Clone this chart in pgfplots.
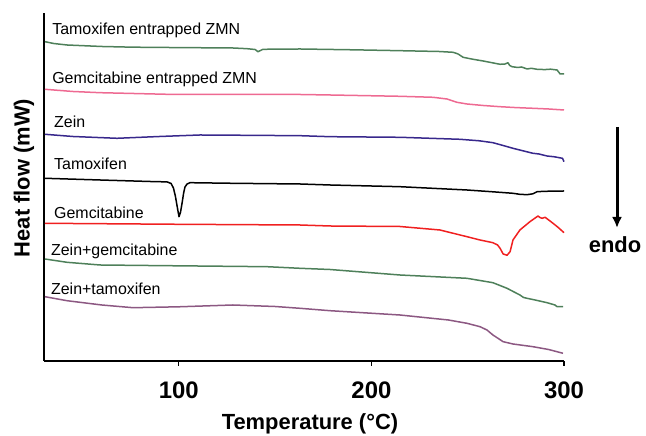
\documentclass[border=0pt]{standalone}
\usepackage{pgfplots}
\pgfplotsset{compat=1.18}
\usepackage{fontspec}
\setmainfont{Liberation Sans}
\usetikzlibrary{arrows.meta}

\definecolor{cgreen}{RGB}{78,128,90}
\definecolor{cpink}{RGB}{238,106,146}
\definecolor{cnavy}{RGB}{56,40,140}
\definecolor{cred}{RGB}{240,32,32}
\definecolor{cmauve}{RGB}{140,88,130}
\tikzset{clabel/.style={anchor=base west, font=\fontsize{16}{16}\selectfont, inner sep=0pt}}

\begin{document}
\begin{tikzpicture}[x=1bp,y=1bp]
\path[use as bounding box] (0,0) rectangle (646,436);
\begin{axis}[
    at={(44bp,75bp)}, anchor=south west,
    scale only axis, width=520bp, height=348bp,
    xmin=30, xmax=300, ymin=-361, ymax=-13,
    axis x line*=bottom, axis y line*=left,
    axis line style={line width=1.8bp, black},
    ytick=\empty,
    xtick={100,200,300},
    tick align=outside, major tick length=5bp,
    tick style={line width=1.2bp, black},
    /pgf/number format/assume math mode=true,
    xticklabel style={font=\fontsize{24}{24}\selectfont\bfseries, anchor=center, yshift=-24bp},
    xlabel={Temperature (°C)},
    ylabel={Heat flow (mW)},
    xlabel style={font=\fontsize{22}{22}\selectfont\bfseries, at={(axis description cs:0.5115,-0.181)}, anchor=center},
    ylabel style={font=\fontsize{22}{22}\selectfont\bfseries, at={(axis description cs:-0.0385,0.526)}, anchor=center},
    clip=false,
    every axis plot/.append style={line width=1.5bp, line join=round},
]
% Tamoxifen entrapped ZMN
\addplot[cgreen] coordinates {
(30.5,-41.7) (35,-43.5) (41.9,-45) (60,-46.5) (76.2,-47.2) (100,-47.6) (128.1,-48) (135.4,-48.7)
(139.6,-49.5) (141.1,-51.7) (143.7,-49.3) (162.9,-49) (190,-49.8) (214.8,-50.7) (235,-51.5)
(242.4,-52.3) (245,-54) (247.6,-57.3) (252.8,-59.3) (258,-61) (262,-62.5) (266.8,-64.3)
(269.4,-64) (270.9,-62.7) (271.8,-65.5) (273.0,-66.7) (276,-67.5) (278,-67) (280.8,-69)
(283,-68.3) (286.0,-69.3) (290,-69.6) (293,-69.2) (296.4,-70) (298,-74) (300,-74)
};
% Gemcitabine entrapped ZMN
\addplot[cpink] coordinates {
(30.5,-89.3) (45,-91.5) (59.1,-92.7) (93.8,-94.3) (130,-94.5) (162.9,-94.5) (178.5,-95)
(214.8,-96.3) (232,-97.3) (239.2,-99) (244.4,-102.3) (249.6,-104) (258,-105.5) (266.8,-106.7)
(275,-107.6) (283.9,-108.3) (292,-109) (300,-110)
};
% Zein
\addplot[cnavy] coordinates {
(30.5,-134.3) (45,-136.5) (67.9,-138.3) (90,-136.5) (111,-135) (135,-135.3) (162.9,-135.7)
(178.5,-136.7) (214.8,-137.3) (246,-139.3) (256,-140.8) (263.1,-142.7) (268,-145.3)
(273.5,-148.3) (278,-150.5) (283.9,-153.3) (287,-154) (291.2,-156) (295,-156.8) (299.2,-158.3) (300,-161.7)
};
% Tamoxifen
\addplot[black] coordinates {
(30.5,-178.3) (59.1,-180) (85,-181.5) (93.9,-181.9) (96,-183.5) (97.2,-188) (98.2,-196)
(99.1,-206) (100.1,-216.7) (100.9,-212) (101.7,-203) (102.5,-193) (103.2,-187) (104.3,-184)
(105.8,-182.7) (128.1,-183.3) (162.9,-184) (178.5,-185) (214.8,-186.7) (249.6,-190)
(263,-191.8) (273.5,-193.3) (277,-194.3) (280.8,-194.7) (283.9,-193.8) (286.0,-191.7)
(290.2,-191.3) (300,-191)
};
% Gemcitabine
\addplot[cred] coordinates {
(30.5,-223.3) (100.6,-224.3) (162.9,-225) (178.5,-226) (214.8,-226.5) (235.6,-230)
(249.6,-236.7) (256.4,-240) (263.1,-242.7) (265.5,-245) (266.8,-248.3) (268.4,-254)
(270.4,-255.3) (272.0,-251.7) (273.5,-240) (277.1,-230) (282.3,-221.7) (286.5,-216)
(287.5,-217.5) (288.6,-218.3) (290.2,-217.3) (294.3,-223.3) (297,-227.5) (300,-232.7)
};
% Zein+gemcitabine
\addplot[cgreen] coordinates {
(30.5,-259) (41.9,-262.3) (59.1,-265) (93.8,-265.7) (145.8,-266.7) (162.9,-268.3)
(178.5,-269.5) (214.8,-275) (249.6,-278.3) (263.1,-282.7) (270.4,-288.3) (277.1,-295)
(279,-297.5) (280.8,-298.3) (285,-300) (291.2,-302.7) (295.3,-305) (296.4,-306.7) (299.5,-306.7)
};
% Zein+tamoxifen
\addplot[cmauve] coordinates {
(30.5,-296.7) (41.9,-300.7) (60,-305) (76.2,-307.7) (100,-306.8) (128.1,-305) (150,-306.5)
(162.9,-308.3) (178.5,-310.7) (214.8,-315) (240,-320) (249.6,-323.3) (256.4,-326.7)
(260,-330) (263.1,-335) (268.4,-341.7) (273.5,-344) (283.9,-346.7) (292,-349.5) (299.5,-353.3)
};
\node[clabel] at (axis cs:34.2,-35) {Tamoxifen entrapped ZMN};
\node[clabel] at (axis cs:34.2,-84) {Gemcitabine entrapped ZMN};
\node[clabel] at (axis cs:35.2,-128) {Zein};
\node[clabel] at (axis cs:35.2,-170) {Tamoxifen};
\node[clabel] at (axis cs:35.2,-219) {Gemcitabine};
\node[clabel] at (axis cs:33.6,-256) {Zein+gemcitabine};
\node[clabel] at (axis cs:33.6,-295) {Zein+tamoxifen};
\end{axis}
\draw[line width=3bp, -{Latex[length=11bp,width=10bp]}] (617,309) -- (617,208);
\node[font=\fontsize{22}{22}\selectfont\bfseries, anchor=base, inner sep=0pt] at (615,183) {endo};
\end{tikzpicture}
\end{document}
